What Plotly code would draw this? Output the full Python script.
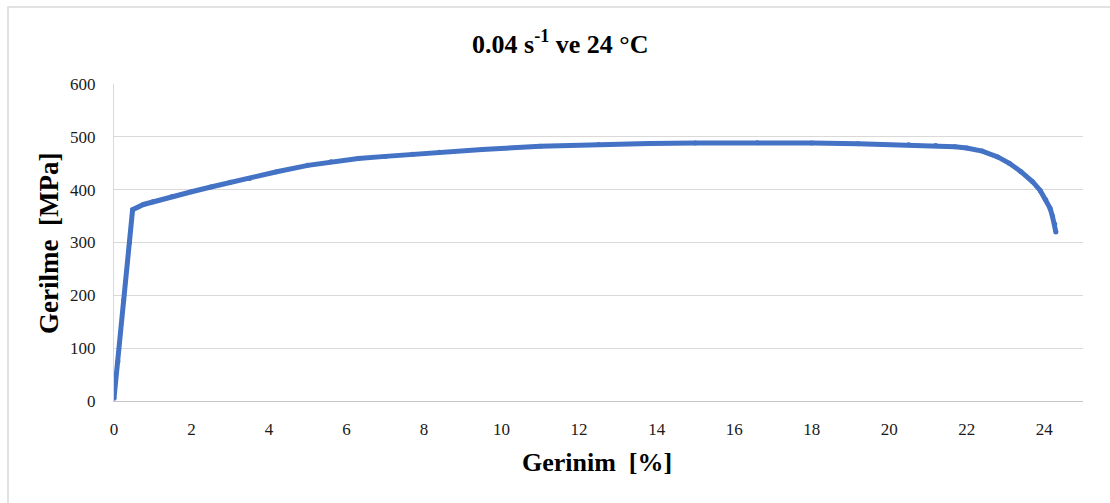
import plotly.graph_objects as go

# Strain [%] and stress [MPa]
strain = [0.0, 0.1, 0.25, 0.4, 0.48, 0.76, 1.0, 1.5, 2.0, 2.5, 3.0, 3.5, 4.2, 5.0,
          5.6, 6.3, 7.0, 7.7, 8.4, 9.5, 11.0, 12.5, 13.8, 15.0, 16.6, 18.0, 19.2,
          20.5, 21.2, 21.7, 22.0, 22.4, 22.8, 23.1, 23.4, 23.7, 23.9, 24.04,
          24.15, 24.21, 24.27, 24.30]
stress = [5, 75, 190, 300, 362, 372, 377, 387, 396, 405, 414, 421, 434, 446,
          453, 459, 463, 467, 471, 476, 482, 485.5, 487.5, 488.5, 489, 488.5,
          487, 485, 483.5, 481, 479, 473, 462, 450, 434, 415, 398, 381,
          365, 350, 335, 320]

x_ticks = [0, 2, 4, 6, 8, 10, 12, 14, 16, 18, 20, 22, 24]
y_ticks = [0, 100, 200, 300, 400, 500, 600]

title_text = "0.04 s<sup>-1</sup> ve 24 °C"
x_title = "Gerinim  [%]"
y_title = "Gerilme  [MPa]"

FONT = "Liberation Serif"
BLUE = "#4472C4"

fig = go.Figure()
fig.add_trace(go.Scatter(
    x=strain, y=stress, mode="lines+markers",
    line=dict(color=BLUE, width=5),
    marker=dict(color=BLUE, size=5),
    showlegend=False, hoverinfo="skip",
))

L, R, T, B = 114, 27, 84, 102
W, H = 1110, 503
pw, ph = W - L - R, H - T - B

def px(xp):
    return (xp - L) / pw

def py(yp):
    return (H - B - yp) / ph

fig.update_layout(
    width=W, height=H,
    margin=dict(l=L, r=R, t=T, b=B),
    paper_bgcolor="white", plot_bgcolor="white",
    font=dict(family=FONT, color="#1a1a1a"),
    xaxis=dict(
        range=[0, 25], tickvals=x_ticks, showgrid=False, zeroline=False,
        showline=True, linecolor="#c6c6c6", linewidth=1.3,
        ticks="", tickfont=dict(size=17, family=FONT, color="#1a1a1a"),
        ticklabelstandoff=12,
    ),
    yaxis=dict(
        range=[0, 600], tickvals=y_ticks, showgrid=True, gridcolor="#d9d9d9",
        gridwidth=1.3, zeroline=False, showline=True, linecolor="#d9d9d9",
        linewidth=1.3, ticks="", tickfont=dict(size=17, family=FONT, color="#1a1a1a"),
        ticklabelstandoff=14,
    ),
    shapes=[dict(
        type="rect", xref="paper", yref="paper",
        x0=px(8), x1=px(1120), y0=py(515), y1=py(7),
        line=dict(color="#d9d9d9", width=1.5), fillcolor="rgba(0,0,0,0)",
        layer="below",
    )],
    annotations=[
        dict(text="<b>" + title_text + "</b>", xref="paper", yref="paper",
             x=px(560), y=py(43), xanchor="center", yanchor="middle",
             showarrow=False, font=dict(size=26, family=FONT, color="black")),
        dict(text="<b>" + x_title + "</b>", xref="paper", yref="paper",
             x=px(597), y=py(462), xanchor="center", yanchor="middle",
             showarrow=False, font=dict(size=26, family=FONT, color="black")),
        dict(text="<b>" + y_title + "</b>", xref="paper", yref="paper",
             x=px(49), y=py(244), xanchor="center", yanchor="middle",
             textangle=-90, showarrow=False,
             font=dict(size=27, family=FONT, color="black")),
    ],
)

fig.write_html("out.html")
